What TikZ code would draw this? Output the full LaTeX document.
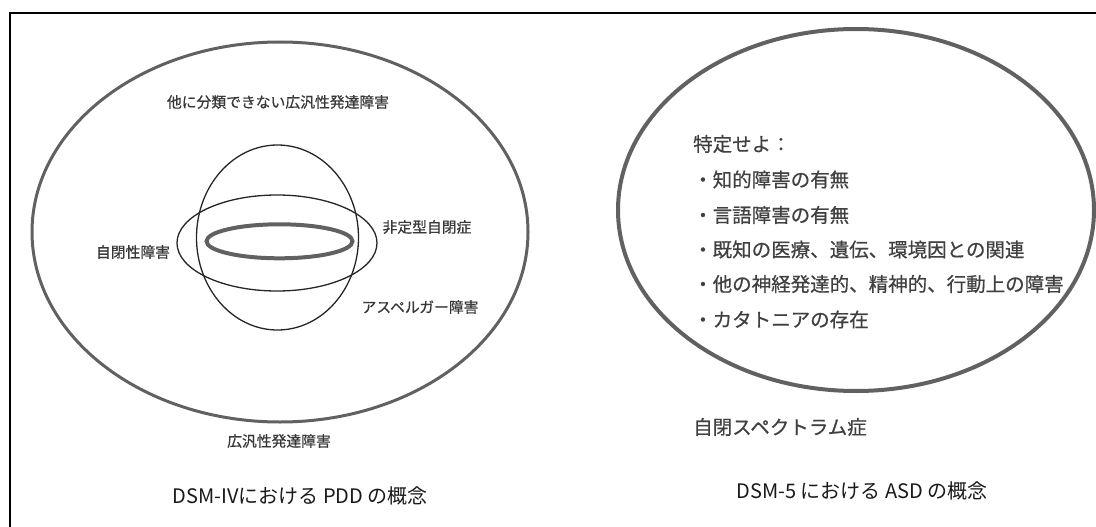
\documentclass[tikz,border=0pt]{standalone}
\usepackage{fontspec}
\setmainfont{Noto Sans CJK JP}
\newfontfamily\jp{Noto Sans CJK JP}
\newfontfamily\jpb[FakeBold=0.6]{Noto Sans CJK JP}
\begin{document}
\begin{tikzpicture}[x=1pt,y=-1pt,
  smalllbl/.style={font=\jpb\fontsize{14.8}{16}\selectfont, text=black!78, inner sep=0pt},
  biglbl/.style={font=\jpb\fontsize{19.5}{22}\selectfont, text=black!75, inner sep=0pt, anchor=west},
  caption/.style={font=\jp\fontsize{20}{22}\selectfont, text=black!90, inner sep=0pt},
  thinell/.style={draw=black!85, line width=1.3pt},
  thickell/.style={draw=black!62, line width=3pt},
  ringell/.style={draw=black!62, line width=4pt},
  frameline/.style={draw=black, line width=2pt}
]
\useasboundingbox (0,0) rectangle (1096,527);
% frame
\coordinate (ftr) at (1096,13);
\coordinate (ftl) at (10,13);
\coordinate (fbl) at (10,527);
\draw[frameline] (ftr) -- (ftl) -- (fbl);

% left diagram
\draw[thickell] (280,232) ellipse [x radius=248pt, y radius=190pt];
\draw[thinell] (277.5,237.5) ellipse [x radius=81pt, y radius=92.5pt];
\draw[thinell] (277,243) ellipse [x radius=100pt, y radius=48pt];
\draw[ringell] (279.5,241.3) ellipse [x radius=73pt, y radius=17pt];

\node[smalllbl] (nos) at (278,102) {他に分類できない広汎性発達障害};
\node[smalllbl] (atyp) at (427,227) {非定型自閉症};
\node[smalllbl] (aut) at (133,252) {自閉性障害};
\node[smalllbl] (asp) at (420,307) {アスペルガー障害};
\node[smalllbl] (pdd) at (279,441) {広汎性発達障害};
\node[caption] (cap1) at (300,496) {DSM-IVにおける PDD の概念};

% right diagram
\draw[ringell] (856,210) ellipse [x radius=238pt, y radius=181pt];
\node[biglbl] (spec) at (693,144) {特定せよ：};
\node[biglbl] (l1) at (693,179.5) {・知的障害の有無};
\node[biglbl] (l2) at (693,215) {・言語障害の有無};
\node[biglbl] (l3) at (693,249.5) {・既知の医療、遺伝、環境因との関連};
\node[biglbl] (l4) at (693,284) {・他の神経発達的、精神的、行動上の障害};
\node[biglbl] (l5) at (693,319.5) {・カタトニアの存在};
\node[biglbl] (asd) at (693,427) {自閉スペクトラム症};
\node[caption] (cap2) at (862,491) {DSM-5 における ASD の概念};
\end{tikzpicture}
\end{document}
